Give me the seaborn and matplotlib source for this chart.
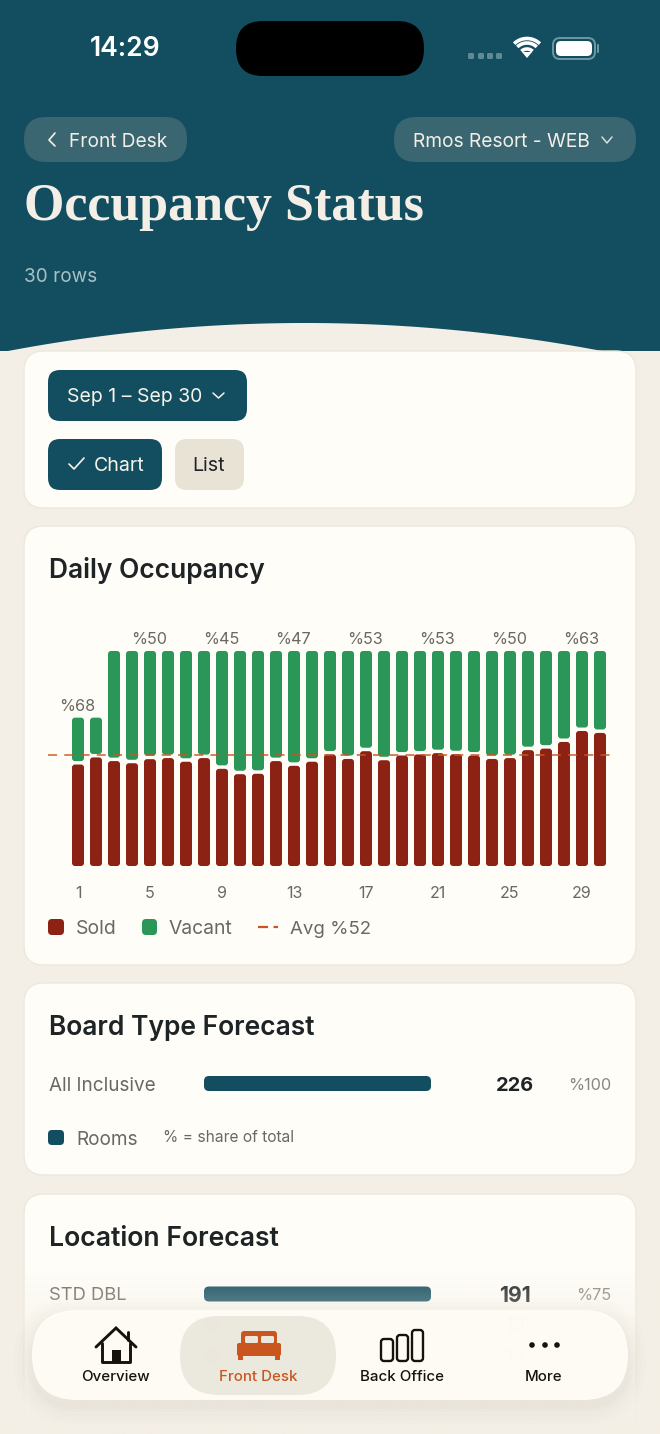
import numpy as np
import pandas as pd
import seaborn as sns
import matplotlib.pyplot as plt
from matplotlib.patches import FancyBboxPatch, Polygon, Circle

W, H = 660, 1434

# daily occupancy, share of the chart height
days = list(range(1, 31))
sold = [47.2, 50.5, 48.8, 47.8, 49.7, 50.2, 48.5, 50.2, 45.2, 42.7,
        42.9, 48.8, 46.6, 48.5, 51.9, 49.8, 53.4, 49.2, 51.4, 51.9,
        52.5, 52.0, 51.4, 49.8, 50.2, 53.9, 54.6, 57.7, 62.8, 61.9]
vacant = [21.8, 18.5, 51.2, 52.2, 50.3, 49.8, 51.5, 49.8, 54.8, 57.3,
          57.1, 51.2, 53.4, 51.5, 48.1, 50.2, 46.6, 50.8, 48.6, 48.1,
          47.5, 48.0, 48.6, 50.2, 49.8, 46.1, 45.4, 42.3, 37.2, 38.1]
pct_days = [1, 5, 9, 13, 17, 21, 25, 29]
pct_labels = ['%68', '%50', '%45', '%47', '%53', '%53', '%50', '%63']
avg_line = 51.4

board_names = ['All Inclusive']
board_rooms = [226]
board_share = ['%100']
loc_names = ['STD DBL', '', '']
loc_rooms = [191, 13, 13]
loc_share = ['%75', '', '']

NAVY = '#124E60'
BG = '#F4EFE6'
CARD = '#FFFDF8'
EDGE = '#EDE8DC'
RED = '#8C2213'
GREEN = '#2A9759'
ORANGE = '#C9561F'
INK = '#1E2326'
GREY = '#6C685F'

sns.set_theme(style='white')
plt.rcParams['font.family'] = ['Inter', 'DejaVu Sans']

fig = plt.figure(figsize=(W / 100, H / 100), dpi=100, facecolor=BG)


def px_axes(x0, y0, x1, y1, zorder=1):
    # axes placed by pixel box, y counted from the top
    ax = fig.add_axes([x0 / W, 1 - y1 / H, (x1 - x0) / W, (y1 - y0) / H], zorder=zorder)
    ax.patch.set_alpha(0)
    return ax


def txt(ax, x, y, s, px, color=INK, ha='left', weight='normal', **kw):
    # +4: matplotlib centres on the full line box, which sits a bit high
    return ax.text(x, y + 4, s, fontsize=px * 0.72, color=color, ha=ha, va='center', fontweight=weight, **kw)


def rbox(ax, x0, y0, x1, y1, r, fc, ec='none', lw=0, alpha=None, zorder=2):
    p = FancyBboxPatch((x0, y0), x1 - x0, y1 - y0, boxstyle=f'round,pad=0,rounding_size={r}',
                       fc=fc, ec=ec, lw=lw, alpha=alpha, zorder=zorder)
    ax.add_patch(p)
    return p


def round_bars(ax, box_w, box_h, r_px, inset=0.0):
    # swap the rectangles of the last barplot for rounded ones, same geometry
    xl, yl = ax.get_xlim(), ax.get_ylim()
    ux = abs(xl[1] - xl[0]) / box_w
    uy = abs(yl[1] - yl[0]) / box_h
    for bar in [p for p in ax.patches if type(p).__name__ == 'Rectangle']:
        x, y, w, h = bar.get_x(), bar.get_y(), bar.get_width(), bar.get_height()
        fc = bar.get_facecolor()
        bar.remove()
        if h <= 0 or w <= 0:
            continue
        ax.add_patch(FancyBboxPatch((x, y + inset), w, h - inset,
                                    boxstyle=f'round,pad=0,rounding_size={r_px * ux}',
                                    mutation_aspect=uy / ux, fc=fc, ec='none', zorder=3))


# page background, header, cards
ui = px_axes(0, 0, W, H, zorder=0)
ui.set_xlim(0, W)
ui.set_ylim(H, 0)
ui.axis('off')

ui.fill_between([0, W], 0, 351, color=NAVY, lw=0, zorder=1)
cx = np.linspace(0, W, 200)
cy = 323 + 28 * ((cx - 305) / 297) ** 2
ui.fill_between(cx, np.minimum(cy, 352), 352, color=BG, lw=0, zorder=1.5)

for top, bottom in [(351, 508), (526, 965), (983, 1175), (1194, 1500)]:
    rbox(ui, 24, top, 636, bottom, 20, CARD, EDGE, 1)

# status bar
txt(ui, 125.5, 45, '14:29', 26.5, 'white', 'center', 'semibold')
rbox(ui, 236, 21, 424, 76, 27, 'black')
for x in [471, 481, 490, 499]:
    rbox(ui, x - 3, 53, x + 3, 59, 1.5, '#5F8A94')
ang = np.radians(np.linspace(-44, 44, 30))
for r in [8, 14]:
    ui.plot(527 + r * np.sin(ang), 57 - r * np.cos(ang), color='white', lw=2.6, solid_capstyle='butt', zorder=3)
ui.add_patch(Polygon([(522, 52), (532, 52), (527, 58)], fc='white', ec='none', zorder=3))
ui.plot(527 + 18.5 * np.sin(ang), 57 - 18.5 * np.cos(ang), color='white', lw=2.6, solid_capstyle='butt', zorder=3)
rbox(ui, 553, 38, 595, 59, 7, 'none', '#6E97A1', 1.4)
rbox(ui, 556, 41, 592, 56, 5, 'white')
rbox(ui, 597, 44, 599, 53, 1, '#6E97A1')

# header
rbox(ui, 24, 117, 187, 162, 22, '#3A6672')
rbox(ui, 394, 117, 636, 162, 22, '#3A6672')
ui.plot([55, 49, 55], [133, 140, 146], color='#F4EFE6', lw=1.2, zorder=3)
txt(ui, 69, 138, 'Front Desk', 19.1, '#F4EFE6', zorder=3)
txt(ui, 413, 138, 'Rmos Resort - WEB', 19.2, '#F4EFE6', zorder=3)
ui.plot([602, 607, 612], [137, 143, 137], color='#D5DFDF', lw=1.1, zorder=3)
txt(ui, 24, 203, 'Occupancy Status', 52, '#F4EFE6', weight='bold', family='Liberation Serif', zorder=3)
txt(ui, 24, 273, '30 rows', 19, '#A9C0C4', zorder=3)

# filter card
rbox(ui, 48, 370, 247, 421, 12, NAVY)
txt(ui, 67, 393, 'Sep 1 \u2013 Sep 30', 19.4, '#F7F3EA', zorder=3)
ui.plot([213, 218.5, 224], [393, 398, 393], color='#F7F3EA', lw=1.1, zorder=3)
rbox(ui, 48, 439, 162, 490, 12, NAVY)
ui.plot([69, 74, 84], [464, 469, 458], color='#F7F3EA', lw=1.2, zorder=3)
txt(ui, 94, 462, 'Chart', 19.6, '#F7F3EA', zorder=3)
rbox(ui, 175, 439, 244, 490, 12, '#E9E3D6')
txt(ui, 209, 462, 'List', 19.6, INK, 'center', zorder=3)

# daily occupancy
txt(ui, 49, 567, 'Daily Occupancy', 26.4, INK, weight='semibold', zorder=3)

AX_BOX = (48, 651, 612, 866)
ax = px_axes(*AX_BOX)
occ = pd.DataFrame({'day': days, 'sold': sold, 'vacant': vacant})
sns.barplot(data=occ, x='day', y='sold', color=RED, saturation=1, width=0.667,
            errorbar=None, orient='x', ax=ax)
ax.set_xlim(-1.667, 29.667)
ax.set_ylim(0, 100)
round_bars(ax, 564, 215, 3)
sns.barplot(data=occ, x='day', y='vacant', bottom=occ['sold'].values, color=GREEN, saturation=1,
            width=0.667, errorbar=None, orient='x', ax=ax)
ax.set_xlim(-1.667, 29.667)
ax.set_ylim(0, 100)
round_bars(ax, 564, 215, 3, inset=1.6)
ax.axhline(avg_line, color=ORANGE, lw=1.3, ls=(0, (5, 4)), alpha=0.8, zorder=4)
ax.set_xlabel('')
ax.set_ylabel('')
ax.set_yticks([])
ax.set_xticks([d - 1 for d in pct_days])
ax.set_xticklabels(pct_days)
ax.tick_params(axis='x', length=0, pad=14.5, labelsize=16 * 0.72, labelcolor=GREY)
sns.despine(ax=ax, left=True, bottom=True)
for d, lab in zip(pct_days, pct_labels):
    top = sold[d - 1] + vacant[d - 1]
    ax.annotate(lab, (d - 1, top), xytext=(-0.5, 11 * 0.72), textcoords='offset points', ha='center',
                va='center', fontsize=16.2 * 0.72, color=GREY, annotation_clip=False)

rbox(ui, 48, 919, 64, 935, 4, RED)
txt(ui, 76, 925, 'Sold', 19.4, GREY, zorder=3)
rbox(ui, 142, 919, 157, 935, 4, GREEN)
txt(ui, 169, 925, 'Vacant', 19.3, GREY, zorder=3)
ui.plot([258, 278], [927, 927], color=ORANGE, lw=1.6, ls=(0, (4.5, 2.5)), zorder=3)
txt(ui, 290, 925, 'Avg %52', 18.6, GREY, zorder=3)

# board type forecast
txt(ui, 49, 1024, 'Board Type Forecast', 26.4, INK, weight='semibold', zorder=3)
bx = px_axes(204, 1076, 431, 1091)
sns.barplot(x=board_rooms, y=board_names, color=NAVY, saturation=1, width=1, orient='y', errorbar=None, ax=bx)
bx.set_xlim(0, max(board_rooms))
bx.set_ylim(0.5, -0.5)
round_bars(bx, 227, 15, 5)
bx.axis('off')
txt(ui, 49, 1082, board_names[0], 18.9, GREY, zorder=3)
txt(ui, 515, 1082, str(board_rooms[0]), 20, INK, 'center', 'bold', zorder=3)
txt(ui, 611, 1082, board_share[0], 16.3, '#8B877E', 'right', zorder=3)
rbox(ui, 48, 1130, 64, 1145, 4, NAVY)
txt(ui, 76, 1136, 'Rooms', 19, GREY, zorder=3)
txt(ui, 163, 1133, '% = share of total', 15.5, GREY, zorder=3)

# location forecast, lower rows sit behind the nav bar
txt(ui, 49, 1235, 'Location Forecast', 26.6, INK, weight='semibold', zorder=3)
lx = px_axes(204, 1278.5, 431, 1371.5)
loc = pd.DataFrame({'name': ['a', 'b', 'c'], 'rooms': loc_rooms})
sns.barplot(data=loc, x='rooms', y='name', color=NAVY, saturation=1, width=0.484, orient='y', errorbar=None, ax=lx)
lx.set_xlim(0, max(loc_rooms))
lx.set_ylim(2.5, -0.5)
round_bars(lx, 227, 93, 5)
lx.axis('off')
txt(ui, 49, 1292, loc_names[0], 18.4, GREY, zorder=3)
txt(ui, 515, 1292, str(loc_rooms[0]), 21, INK, 'center', 'bold', zorder=3)
txt(ui, 611, 1292, loc_share[0], 16.3, '#8B877E', 'right', zorder=3)
for i in [1, 2]:
    txt(ui, 515, 1292 + 31 * i, str(loc_rooms[i]), 20, INK, 'center', alpha=0.45, zorder=3)

# fade and floating nav bar on top of everything
top = px_axes(0, 0, W, H, zorder=5)
top.set_xlim(0, W)
top.set_ylim(H, 0)
top.axis('off')
fade = np.zeros((200, 1, 4))
fade[:, :, :3] = plt.matplotlib.colors.to_rgb(BG)
fade[:, 0, 3] = np.clip(np.linspace(0, 1.05, 200), 0, 1) ** 0.8
top.imshow(fade, extent=(0, W, 1434, 1270), aspect='auto', zorder=1, interpolation='bilinear')
top.set_xlim(0, W)
top.set_ylim(H, 0)

for grow, a in [(18, 0.008), (14, 0.01), (10, 0.012), (6, 0.014), (3, 0.016)]:
    rbox(top, 32 - grow, 1310 - grow + 6, 628 + grow, 1400 + grow + 6, 45 + grow, '#5A5440', alpha=a, zorder=2)
rbox(top, 32, 1310, 628, 1400, 45, '#FFFDF6', alpha=0.94, zorder=3)
rbox(top, 180, 1316, 336, 1395, 39, '#EBE7DC', alpha=0.95, zorder=4)

# house icon
top.plot([96, 116, 136], [1347, 1328, 1347], color='#16130F', lw=2.1, zorder=5, solid_joinstyle='miter')
top.plot([128, 128], [1332, 1340], color='#16130F', lw=2.1, zorder=5)
top.plot([102, 102, 130, 130], [1343, 1362, 1362, 1343], color='#16130F', lw=2.1, zorder=5)
top.fill_between([112, 121], 1350, 1362, color='#16130F', lw=0, zorder=5)

# bed icon
rbox(top, 241, 1331, 277, 1346, 3, ORANGE, zorder=5)
rbox(top, 245, 1336, 258, 1343, 1.5, '#EBE7DC', zorder=6)
rbox(top, 261, 1336, 274, 1343, 1.5, '#EBE7DC', zorder=6)
rbox(top, 237, 1343, 281, 1356, 2, ORANGE, zorder=7)
top.fill_between([238, 243], 1355, 1360, color=ORANGE, lw=0, zorder=7)
top.fill_between([275, 280], 1355, 1360, color=ORANGE, lw=0, zorder=7)

# bars icon
for x0, x1, y0 in [(381, 393, 1339), (397, 408, 1335), (412, 423, 1330)]:
    rbox(top, x0, y0, x1, 1361, 3, 'none', '#16130F', 1.7, zorder=5)

# more icon
for x in [532, 545, 557]:
    top.add_patch(Circle((x, 1345), 2.8, fc='#16130F', ec='none', zorder=5))

txt(top, 115, 1373, 'Overview', 15, '#16130F', 'center', 'medium', zorder=6)
txt(top, 258, 1373, 'Front Desk', 15, ORANGE, 'center', 'medium', zorder=6)
txt(top, 402, 1373, 'Back Office', 15, '#16130F', 'center', 'medium', zorder=6)
txt(top, 544, 1373, 'More', 15, '#16130F', 'center', 'medium', zorder=6)

fig.savefig('out.png', dpi=100, facecolor=BG)
